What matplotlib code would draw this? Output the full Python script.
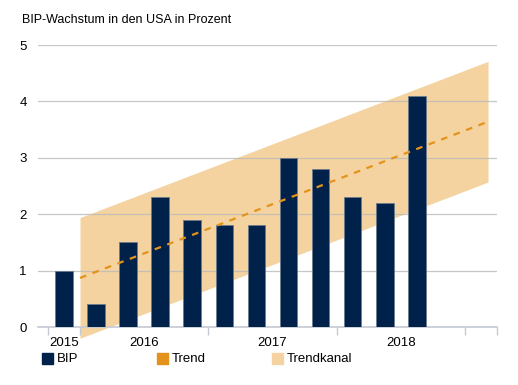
import numpy as np
import matplotlib.pyplot as plt
from matplotlib.patches import Patch

plt.rcParams['font.family'] = ['Liberation Sans', 'DejaVu Sans']

# quarterly GDP growth, 2015 Q4 .. 2018 Q3
quarters = ['2015Q4', '2016Q1', '2016Q2', '2016Q3', '2016Q4',
            '2017Q1', '2017Q2', '2017Q3', '2017Q4',
            '2018Q1', '2018Q2', '2018Q3']
bip = [1.0, 0.4, 1.5, 2.3, 1.9, 1.8, 1.8, 3.0, 2.8, 2.3, 2.2, 4.1]

# trend line endpoints (in slot units) and channel half width
trend_x = [1.0, 13.72]
trend_y = [0.87, 3.64]
channel = 1.07

year_labels = ['2015', '2016', '2017', '2018']
year_pos = [0.5, 3.0, 7.0, 11.0]
year_ticks = [0, 1, 5, 9, 13, 14]

navy = '#00224a'
orange = '#e3931b'
sand = '#f5d3a0'
grid = '#b9b9b9'

fig = plt.figure(figsize=(5.18, 3.85), dpi=100)
ax = fig.add_axes([38 / 518, 1 - 327 / 385, (497 - 38) / 518, (327 - 45) / 385])

x = np.arange(len(bip)) + 0.5
tx = np.array(trend_x)
ty = np.array(trend_y)
ax.fill_between(tx, ty - channel, ty + channel, color=sand, lw=0, zorder=1, clip_on=False)
for v in range(1, 6):
    ax.axhline(v, color=grid, lw=0.9, zorder=2, alpha=0.8)
ax.bar(x, bip, width=0.55, color=navy, edgecolor='#6b7a8c', linewidth=0.6, zorder=3)
ax.plot(tx, ty, color=orange, lw=1.6, ls=(0, (3, 3)), zorder=4)

ax.set_xlim(-0.31, 14)
ax.set_ylim(0, 5)
for s in ['top', 'right', 'left']:
    ax.spines[s].set_visible(False)
ax.spines['bottom'].set_color('#c3cad3')
ax.spines['bottom'].set_linewidth(1.2)
ax.set_xticks(year_ticks)
ax.set_xticklabels([])
ax.set_xticks(year_pos, minor=True)
ax.set_xticklabels(year_labels, minor=True, fontsize=9.5)
ax.tick_params(axis='x', which='major', length=6, width=1.0, color='#c3cad3')
ax.tick_params(axis='x', which='minor', length=0, pad=7)
ax.set_yticks(range(0, 6))
ax.tick_params(axis='y', length=0, pad=8, labelsize=9.5)

fig.text(22 / 518, 1 - 20 / 385, 'BIP-Wachstum in den USA in Prozent', fontsize=9, va='center')

handles = [Patch(color=navy), Patch(color=orange), Patch(color=sand)]
labels = ['BIP', 'Trend', 'Trendkanal']
for i, (h, lab) in enumerate(zip(handles, labels)):
    x0 = [42, 157, 272][i]
    fig.patches.append(plt.Rectangle((x0 / 518, 1 - 364 / 385), 11 / 518, 11 / 385,
                                     transform=fig.transFigure, color=h.get_facecolor(), figure=fig))
    fig.text((x0 + 15) / 518, 1 - 359 / 385, lab, fontsize=9.5, va='center')

fig.savefig('out.png', dpi=100)
